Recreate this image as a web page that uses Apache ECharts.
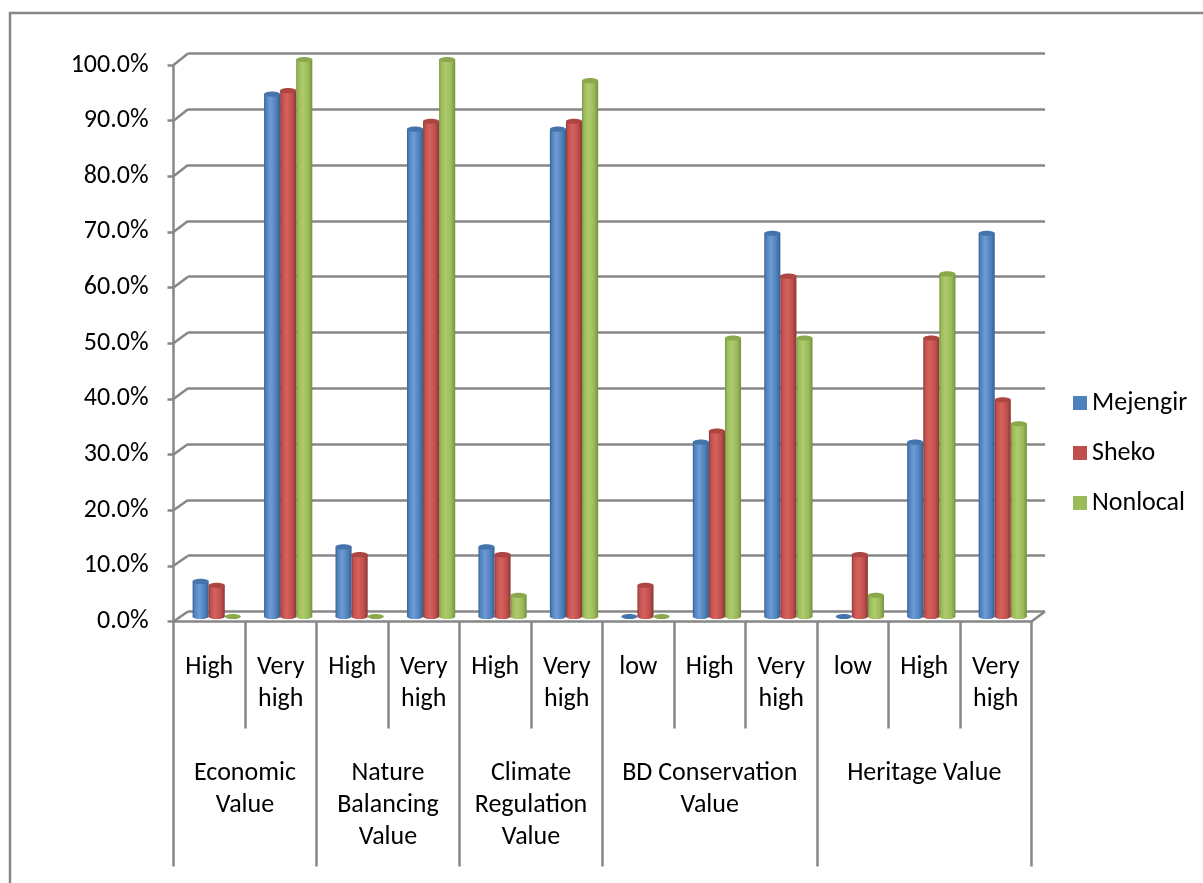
<!DOCTYPE html>
<html>
<head>
<meta charset="utf-8">
<title>Perceived forest values by group</title>
<script src="https://cdn.jsdelivr.net/npm/echarts@6/dist/echarts.min.js"></script>
<style>
  html, body { margin: 0; padding: 0; background: #ffffff; }
  #chart { width: 1203px; height: 883px; }
</style>
</head>
<body>
<div id="chart"></div>
<script>
// Rating levels along the axis (inner labels) and the value groups beneath them
const categories = ['High', 'Very\nhigh', 'High', 'Very\nhigh', 'High', 'Very\nhigh',
                    'low', 'High', 'Very\nhigh', 'low', 'High', 'Very\nhigh'];
const groups = ['Economic\nValue', 'Nature\nBalancing\nValue', 'Climate\nRegulation\nValue',
                'BD Conservation\nValue', 'Heritage Value'];
const groupSizes = [2, 2, 2, 3, 3];
const yTicks = [0, 10, 20, 30, 40, 50, 60, 70, 80, 90, 100];

// Share of respondents (%) per rating level
const mejengir = [6.3, 93.8, 12.5, 87.5, 12.5, 87.5, 0.0, 31.3, 68.8, 0.0, 31.3, 68.8];
const sheko    = [5.6, 94.4, 11.1, 88.9, 11.1, 88.9, 5.6, 33.3, 61.1, 11.1, 50.0, 38.9];
const nonlocal = [0.0, 100.0, 0.0, 100.0, 3.8, 96.2, 0.0, 50.0, 50.0, 3.8, 61.5, 34.6];

const FONT = 'Carlito, Lato, "Open Sans", sans-serif';
const FONT_SIZE = 26;
const AXIS_GRAY = '#878787';
const LINE_W = 2.5;

// boundaries and label centres of the group row
const groupEdges = [0];
groupSizes.forEach(n => groupEdges.push(groupEdges[groupEdges.length - 1] + n));
const groupCentres = groupSizes.map((n, i) => groupEdges[i] + n / 2);

const palettes = {
  Mejengir: { base: '#4f81bd', light: '#6e9bd4', dark: '#35608f', cap: '#4574ad' },
  Sheko:    { base: '#c0504d', light: '#d6625f', dark: '#8c3634', cap: '#ad4542' },
  Nonlocal: { base: '#9bbb59', light: '#aecb6e', dark: '#74903c', cap: '#8aa94c' }
};

function cylinder(slot, pal) {
  const shade = {
    type: 'linear', x: 0, y: 0, x2: 1, y2: 0,
    colorStops: [
      { offset: 0, color: pal.dark },
      { offset: 0.12, color: pal.base },
      { offset: 0.4, color: pal.light },
      { offset: 0.75, color: pal.base },
      { offset: 1, color: pal.dark }
    ]
  };
  return function (params, api) {
    const idx = api.value(0);
    const v = api.value(1);
    const base = api.coord([idx, 0]);
    const top = api.coord([idx, v]);
    const band = api.size([1, 0])[0];
    const w = band * 0.225;
    const cx = base[0] + (slot - 1) * w;
    const rx = w / 2, ry = 2.6;
    const kids = [];
    if (base[1] - top[1] > 0.5) {
      kids.push({ type: 'rect', shape: { x: cx - rx, y: top[1], width: w, height: base[1] - top[1] }, style: { fill: shade } });
      kids.push({ type: 'ellipse', shape: { cx: cx, cy: base[1], rx: rx, ry: ry }, style: { fill: shade } });
    }
    kids.push({ type: 'ellipse', shape: { cx: cx, cy: top[1], rx: rx, ry: ry }, style: { fill: pal.cap } });
    return { type: 'group', children: kids };
  };
}

function barSeries(name, values, slot) {
  return {
    name: name,
    type: 'custom',
    xAxisIndex: 3,
    yAxisIndex: 2,
    itemStyle: { color: palettes[name].base },
    renderItem: cylinder(slot, palettes[name]),
    encode: { x: 0, y: 1 },
    data: values.map((v, i) => [i, v]),
    z: 5
  };
}

const chart = echarts.init(document.getElementById('chart'), null, { renderer: 'canvas' });

const option = {
  backgroundColor: '#ffffff',
  animation: false,
  textStyle: { fontFamily: FONT },
  grid: [
    // back wall
    { left: 188, right: 158, top: 53.5, bottom: 271.5 },
    // front axes
    { left: 173.5, right: 171.5, top: 65, bottom: 261.5 },
    // columns at mid depth
    { left: 181, right: 164.5, top: 59.5, bottom: 266.5 }
  ],
  xAxis: [
    { gridIndex: 0, type: 'value', min: 0, max: 12, show: false },
    {
      gridIndex: 1, type: 'category', data: categories, boundaryGap: true, position: 'bottom',
      axisLine: { show: true, lineStyle: { color: AXIS_GRAY, width: LINE_W } },
      axisTick: { show: true, interval: 0, length: 107, lineStyle: { color: AXIS_GRAY, width: LINE_W } },
      axisLabel: { interval: 0, margin: 30, color: '#000', fontSize: FONT_SIZE, lineHeight: 32, fontFamily: FONT }
    },
    {
      gridIndex: 1, type: 'value', min: 0, max: 12, position: 'bottom',
      axisLine: { show: false },
      splitLine: { show: false },
      axisTick: { show: true, customValues: groupEdges, length: 245, lineStyle: { color: AXIS_GRAY, width: LINE_W } },
      axisLabel: {
        show: true, customValues: groupCentres, margin: 136, color: '#000', fontSize: FONT_SIZE, lineHeight: 32,
        fontFamily: FONT, align: 'center', verticalAlign: 'top',
        formatter: function (val) {
          const i = groupCentres.indexOf(val);
          return i >= 0 ? groups[i] : '';
        }
      }
    },
    { gridIndex: 2, type: 'category', data: categories, show: false }
  ],
  yAxis: [
    {
      gridIndex: 0, type: 'value', min: 0, max: 100, interval: 10,
      axisLine: { show: false }, axisTick: { show: false }, axisLabel: { show: false },
      splitLine: { show: true, lineStyle: { color: AXIS_GRAY, width: LINE_W } }
    },
    {
      gridIndex: 1, type: 'value', min: 0, max: 100, interval: 10,
      axisLine: { show: true, lineStyle: { color: AXIS_GRAY, width: LINE_W } },
      axisTick: { show: true, length: 6, lineStyle: { color: AXIS_GRAY, width: LINE_W } },
      splitLine: { show: false },
      axisLabel: {
        margin: 25, color: '#000', fontSize: FONT_SIZE, fontFamily: FONT,
        formatter: v => v.toFixed(1) + '%'
      }
    },
    { gridIndex: 2, type: 'value', min: 0, max: 100, show: false }
  ],
  legend: {
    orient: 'vertical',
    left: 1068,
    top: 385,
    icon: 'rect',
    itemWidth: 14,
    itemHeight: 14,
    itemGap: 24,
    textStyle: { color: '#000', fontSize: FONT_SIZE, fontFamily: FONT },
    data: ['Mejengir', 'Sheko', 'Nonlocal']
  },
  series: [
    barSeries('Mejengir', mejengir, 0),
    barSeries('Sheko', sheko, 1),
    barSeries('Nonlocal', nonlocal, 2)
  ]
};

chart.setOption(option);

// Side wall and floor edges joining the front axes to the back wall
const edges = [];
const fx0 = chart.convertToPixel({ xAxisIndex: 2 }, 0);
const fx1 = chart.convertToPixel({ xAxisIndex: 2 }, 12);
const bx0 = chart.convertToPixel({ xAxisIndex: 0 }, 0);
const bx1 = chart.convertToPixel({ xAxisIndex: 0 }, 12);
yTicks.forEach(t => {
  const yf = chart.convertToPixel({ yAxisIndex: 1 }, t);
  const yb = chart.convertToPixel({ yAxisIndex: 0 }, t);
  edges.push({ type: 'line', z: 1, shape: { x1: fx0, y1: yf, x2: bx0, y2: yb },
               style: { stroke: AXIS_GRAY, lineWidth: LINE_W } });
});
const yf0 = chart.convertToPixel({ yAxisIndex: 1 }, 0);
const yb0 = chart.convertToPixel({ yAxisIndex: 0 }, 0);
edges.push({ type: 'line', z: 1, shape: { x1: fx1, y1: yf0, x2: bx1, y2: yb0 },
             style: { stroke: AXIS_GRAY, lineWidth: LINE_W } });
// chart frame
edges.push({ type: 'rect', z: 0, shape: { x: 10, y: 13, width: 1400, height: 1000 },
             style: { fill: null, stroke: AXIS_GRAY, lineWidth: LINE_W } });

chart.setOption({ graphic: edges });
</script>
</body>
</html>
